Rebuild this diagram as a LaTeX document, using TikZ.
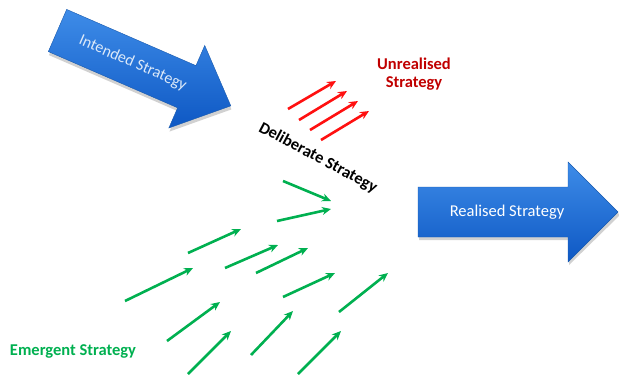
\documentclass[tikz,border=0pt]{standalone}
\usepackage{fontspec}
\setmainfont{Carlito}
\usetikzlibrary{arrows.meta}
\definecolor{bigblue}{RGB}{30,112,218}
\definecolor{bigbluetop}{RGB}{62,140,232}
\definecolor{bigbluebot}{RGB}{14,88,196}
\definecolor{redarr}{RGB}{255,16,16}
\definecolor{darkred}{RGB}{192,0,0}
\definecolor{greenarr}{RGB}{0,176,80}
\tikzset{
  bigarrow/.style={top color=bigbluetop, bottom color=bigbluebot, draw=bigblue!80!black, line width=0.4pt},
  arrshadow/.style={fill=black, opacity=0.18, draw=none},
  bigtext/.style={text=white, font=\fontsize{16.5}{18}\selectfont},
  redline/.style={draw=redarr, line width=2.6pt, -{Stealth[length=9pt,width=8pt]}},
  greenline/.style={draw=greenarr, line width=2.6pt, -{Stealth[length=9pt,width=8pt]}},
  lbl/.style={font=\fontsize{16.5}{17}\selectfont\bfseries, align=center, inner sep=0pt}
}
\begin{document}
\begin{tikzpicture}[x=1pt,y=-1pt]
\useasboundingbox (0,0) rectangle (619,378);
% Intended strategy arrow
\begin{scope}[shift={(57.5,30.5)}, rotate=-23.5]
  \path[arrshadow, shift={(2,3)}] (0,-23) -- (141,-23) -- (141,-45) -- (189,0) -- (141,45) -- (141,23) -- (0,23) -- cycle;
  \path[bigarrow] (0,-23) -- (141,-23) -- (141,-45) -- (189,0) -- (141,45) -- (141,23) -- (0,23) -- cycle;
  \node[transform shape, text=white!85!bigblue, font=\fontsize{16}{18}\selectfont] (intended) at (82,0) {Intended Strategy};
\end{scope}
% Realised strategy arrow
\path[arrshadow] (419,190) -- (569,190) -- (569,165) -- (620,215) -- (569,265) -- (569,240) -- (419,240) -- cycle;
\path[bigarrow] (418,187) -- (568,187) -- (568,162) -- (618,212) -- (568,262) -- (568,237) -- (418,237) -- cycle;
\node[bigtext] (realised) at (507,212) {Realised Strategy};
% red arrows
\coordinate (r1a) at (288,109); \coordinate (r1b) at (336,81);
\coordinate (r2a) at (299,120); \coordinate (r2b) at (347,91);
\coordinate (r3a) at (310,130); \coordinate (r3b) at (358,101);
\coordinate (r4a) at (321,140); \coordinate (r4b) at (369,111);
\draw[redline] (r1a) -- (r1b);
\draw[redline] (r2a) -- (r2b);
\draw[redline] (r3a) -- (r3b);
\draw[redline] (r4a) -- (r4b);
\node[lbl, text=darkred] (unreal) at (414,74) {Unrealised\\[1pt]Strategy};
% deliberate label
\node[lbl, text=black, rotate=-28] (delib) at (318,158) {Deliberate Strategy};
% green arrows
\coordinate (ka) at (283,181); \coordinate (kb) at (331,201);
\coordinate (la) at (277,221); \coordinate (lb) at (331,209);
\coordinate (aa) at (188,253); \coordinate (ab) at (241,229);
\coordinate (ba) at (225,268); \coordinate (bb) at (278,245);
\coordinate (ca) at (256,273); \coordinate (cb) at (308,248);
\coordinate (da) at (125,301); \coordinate (db) at (193,268);
\coordinate (ea) at (283,297); \coordinate (eb) at (335,273);
\coordinate (fa) at (339,312); \coordinate (fb) at (388,273);
\coordinate (ga) at (167,341); \coordinate (gb) at (220,302);
\coordinate (ha) at (251,355); \coordinate (hb) at (293,311);
\coordinate (ia) at (188,374); \coordinate (ib) at (231,331);
\coordinate (ja) at (298,374); \coordinate (jb) at (341,331);
\foreach \p in {k,l,a,b,c,d,e,f,g,h,i,j}{
  \draw[greenline] (\p a) -- (\p b);
}
\node[lbl, text=greenarr] (emergent) at (73,351) {Emergent Strategy};
\end{tikzpicture}
\end{document}
